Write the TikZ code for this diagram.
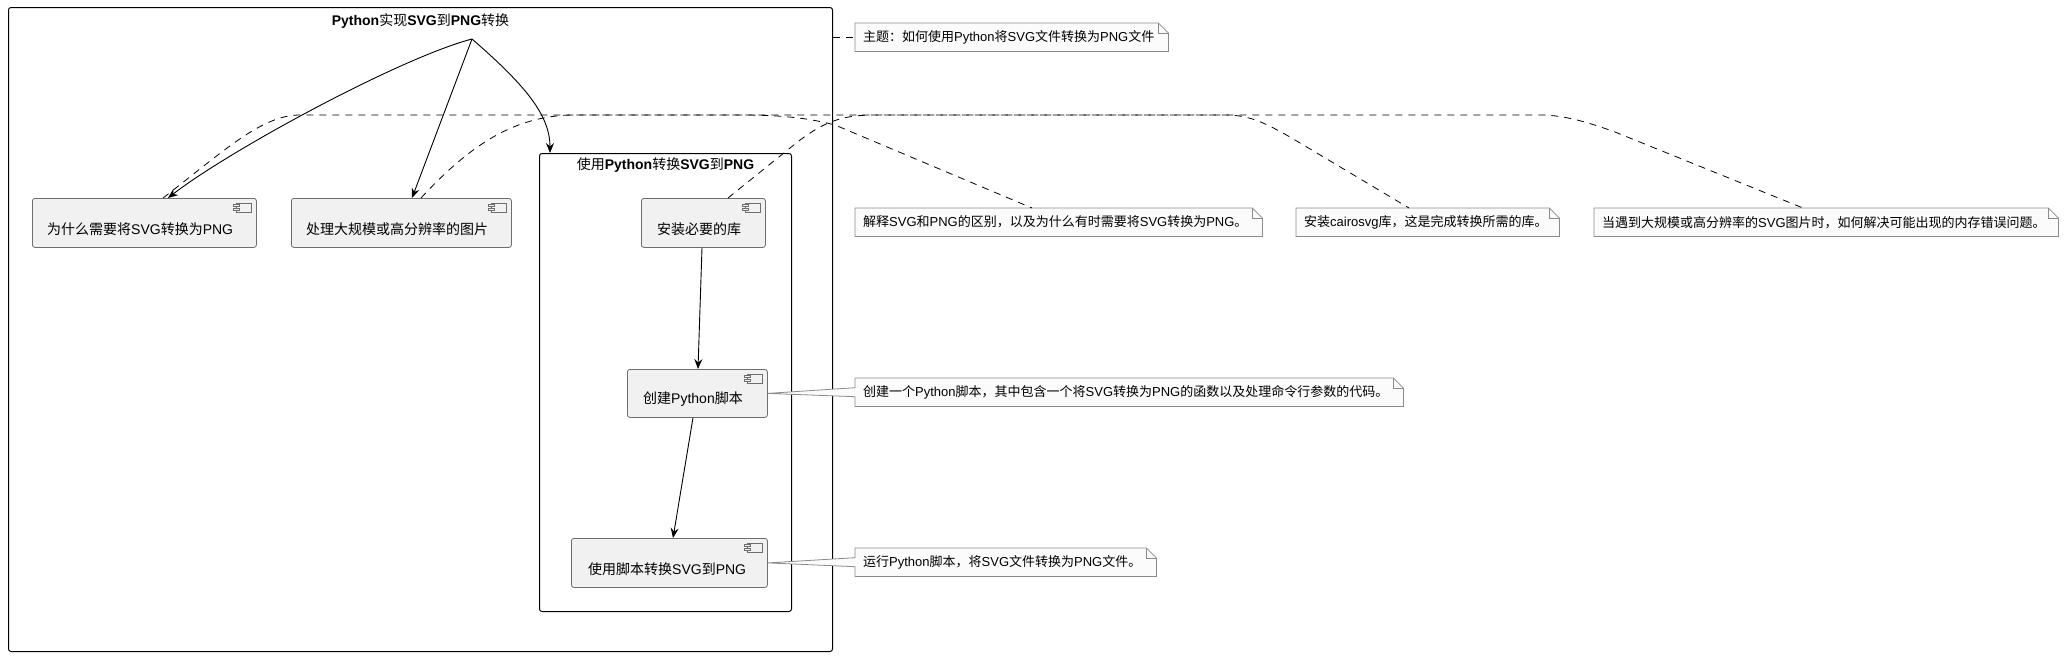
\documentclass[tikz,border=0pt]{standalone}
\usepackage{fontspec}
\setmainfont{Noto Sans CJK SC}
\newfontfamily\lat{Liberation Sans}
\usetikzlibrary{arrows.meta,calc}
\definecolor{compfill}{HTML}{F1F1F1}
\definecolor{compline}{HTML}{6E6E6E}
\definecolor{notefill}{HTML}{FBFBFB}
\definecolor{noteline}{HTML}{8A8A8A}
\newcommand\latn[1]{{\lat #1}}
\newcommand\latb[1]{{\lat\bfseries #1}}
\newcommand\compicon[1]{%
  \draw[iconline] ([xshift=-20pt,yshift=-5pt]#1.north east) rectangle ([xshift=-5pt,yshift=-14pt]#1.north east);
  \draw[iconline] ([xshift=-23pt,yshift=-6.5pt]#1.north east) rectangle ([xshift=-17pt,yshift=-8.5pt]#1.north east);
  \draw[iconline] ([xshift=-23pt,yshift=-10.5pt]#1.north east) rectangle ([xshift=-17pt,yshift=-12.5pt]#1.north east);}
\newcommand\notefoldmark[1]{%
  \draw[draw=noteline, line width=0.8pt] ([xshift=-10pt]#1.north east) |- ([yshift=-10pt]#1.north east);}
\newcommand\noteplain[1]{%
  \path[noteshape] (#1.north west) -- ([xshift=-10pt]#1.north east) -- ([yshift=-10pt]#1.north east) -- (#1.south east) -- (#1.south west) -- cycle;
  \notefoldmark{#1}}
\newcommand\notetail[2]{%
  \path[noteshape] (#1.north west) -- ([xshift=-10pt]#1.north east) -- ([yshift=-10pt]#1.north east) -- (#1.south east) -- (#1.south west) -- ([yshift=-4.5pt]#1.west) -- (#2) -- ([yshift=4.5pt]#1.west) -- cycle;
  \notefoldmark{#1}}
\tikzset{
  frame/.style={draw=black, line width=1pt, rounded corners=2.5pt, anchor=north west, inner sep=0pt},
  frametitle/.style={inner sep=0pt, font=\fontsize{14pt}{16pt}\selectfont},
  comp/.style={draw=compline, fill=compfill, line width=0.8pt, rounded corners=2.5pt, anchor=north west, inner sep=0pt, minimum height=49pt},
  comptext/.style={anchor=west, inner sep=0pt, font=\fontsize{14pt}{16pt}\selectfont},
  notebox/.style={anchor=north west, inner sep=0pt, minimum height=28pt},
  notetext/.style={anchor=west, inner sep=0pt, font=\fontsize{13pt}{15pt}\selectfont},
  arr/.style={draw=black, line width=0.9pt, -{Stealth[length=10pt,width=8pt,inset=3.5pt]}},
  notelink/.style={draw=black, line width=0.8pt, dash pattern=on 7pt off 6pt},
  iconline/.style={draw=compline, fill=compfill, line width=0.7pt},
  noteshape/.style={draw=noteline, fill=notefill, line width=0.8pt}
}
\begin{document}
\begin{tikzpicture}[x=1pt,y=-1pt]
\useasboundingbox (0,0) rectangle (2065,656);
% frames
\node[frame, minimum width=824pt, minimum height=644pt] (outer) at (8,7) {};
\node[frametitle] (outerT) at ([yshift=-14pt]outer.north) {\latb{Python}实现\latb{SVG}到\latb{PNG}转换};
\node[frame, minimum width=252pt, minimum height=458pt] (inner) at (539,153) {};
\node[frametitle] (innerT) at ([yshift=-12pt]inner.north) {使用\latb{Python}转换\latb{SVG}到\latb{PNG}};
\coordinate (fan) at (472,39);
% components
\node[comp, minimum width=224pt] (c1) at (32,198) {};
\node[comp, minimum width=220pt] (c2) at (291,198) {};
\node[comp, minimum width=124pt] (c3) at (641,198) {};
\node[comp, minimum width=140pt, minimum height=48pt] (c4) at (627,369) {};
\node[comp, minimum width=196pt] (c5) at (571,538) {};
\compicon{c1}\compicon{c2}\compicon{c3}\compicon{c4}\compicon{c5}
\node[comptext] (c1t) at ([xshift=15pt,yshift=-31pt]c1.north west) {为什么需要将\latn{SVG}转换为\latn{PNG}};
\node[comptext] (c2t) at ([xshift=15pt,yshift=-31pt]c2.north west) {处理大规模或高分辨率的图片};
\node[comptext] (c3t) at ([xshift=16pt,yshift=-31pt]c3.north west) {安装必要的库};
\node[comptext] (c4t) at ([xshift=16pt,yshift=-30pt]c4.north west) {创建\latn{Python}脚本};
\node[comptext] (c5t) at ([xshift=17pt,yshift=-31pt]c5.north west) {使用脚本转换\latn{SVG}到\latn{PNG}};
% notes
\node[notebox, minimum width=313pt] (n1) at (855,23) {};
\node[notebox, minimum width=407pt] (n2) at (855,208) {};
\node[notebox, minimum width=263pt] (n3) at (1296,208) {};
\node[notebox, minimum width=464pt] (n4) at (1594,208) {};
\node[notebox, minimum width=548pt] (n5) at (855,378) {};
\node[notebox, minimum width=301pt] (n6) at (855,548) {};
\noteplain{n1}\noteplain{n2}\noteplain{n3}\noteplain{n4}
\notetail{n5}{c4.east}
\notetail{n6}{c5.east}
\node[notetext] (n1t) at ([xshift=8pt]n1.west) {主题：如何使用\latn{Python}将\latn{SVG}文件转换为\latn{PNG}文件};
\node[notetext] (n2t) at ([xshift=8pt]n2.west) {解释\latn{SVG}和\latn{PNG}的区别，以及为什么有时需要将\latn{SVG}转换为\latn{PNG}。};
\node[notetext] (n3t) at ([xshift=8pt]n3.west) {安装\latn{cairosvg}库，这是完成转换所需的库。};
\node[notetext] (n4t) at ([xshift=8pt]n4.west) {当遇到大规模或高分辨率的\latn{SVG}图片时，如何解决可能出现的内存错误问题。};
\node[notetext] (n5t) at ([xshift=8pt]n5.west) {创建一个\latn{Python}脚本，其中包含一个将\latn{SVG}转换为\latn{PNG}的函数以及处理命令行参数的代码。};
\node[notetext] (n6t) at ([xshift=8pt]n6.west) {运行\latn{Python}脚本，将\latn{SVG}文件转换为\latn{PNG}文件。};
% note links
\draw[notelink] (outer.east |- n1.west) -- (n1.west);
\draw[notelink] ([xshift=131pt]c1.north west) .. controls (225,150) and (262,115) .. (300,115) -- (740,115) .. controls (775,115) and (805,117) .. (835,125) -- ([xshift=177pt]n2.north west);
\draw[notelink] ([xshift=87pt]c3.north west) -- (795,144) .. controls (825,120) and (845,115) .. (875,115) -- (1225,115) .. controls (1250,115) and (1265,123) .. (1290,137) -- ([xshift=113pt]n3.north west);
\draw[notelink] ([xshift=130pt]c2.north west) .. controls (470,145) and (515,115) .. (575,115) -- (1540,115) .. controls (1565,115) and (1590,123) .. (1615,132) -- ([xshift=209pt]n4.north west);
% arrows
\draw[arr] (fan) .. controls (400,58) and (230,150) .. ([xshift=136pt]c1.north west);
\draw[arr] (fan) -- ([xshift=121pt]c2.north west);
\draw[arr] (fan) .. controls (525,85) and (550,115) .. ([xshift=11pt]inner.north west);
\draw[arr] ([xshift=61pt]c3.south west) -- ([xshift=71pt]c4.north west);
\draw[arr] ([xshift=66pt]c4.south west) -- ([xshift=102pt]c5.north west);
\end{tikzpicture}
\end{document}
